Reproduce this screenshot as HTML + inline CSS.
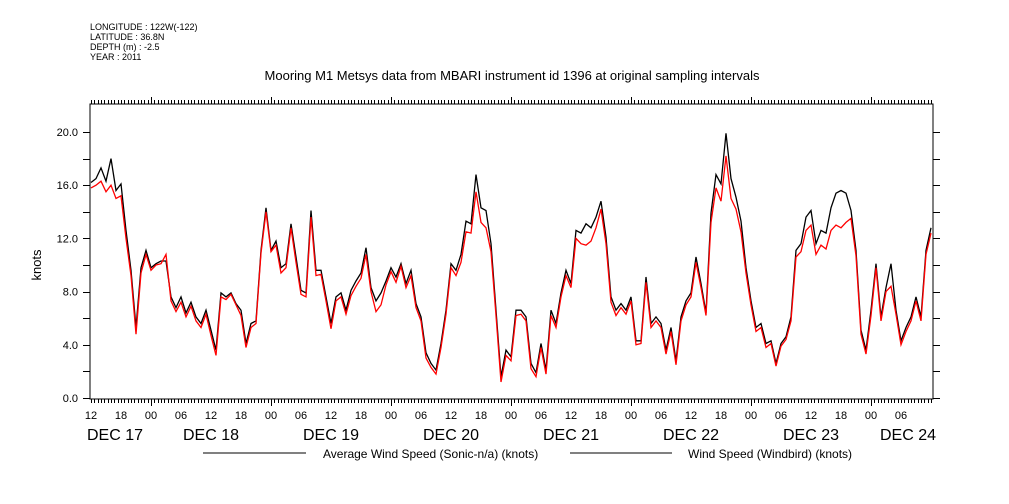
<!DOCTYPE html>
<html><head><meta charset="utf-8"><style>
html,body{margin:0;padding:0;background:#fff;}
svg{display:block;font-family:"Liberation Sans",sans-serif;}
</style></head><body>
<svg id="chart" width="1009" height="504" viewBox="0 0 1009 504">
<g font-size="9" fill="#000">
<text x="90" y="30">LONGITUDE : 122W(-122)</text>
<text x="90" y="40">LATITUDE : 36.8N</text>
<text x="90" y="50">DEPTH (m) : -2.5</text>
<text x="90" y="60">YEAR : 2011</text>
</g>
<text x="512" y="80" text-anchor="middle" font-size="13">Mooring M1 Metsys data from MBARI instrument id 1396 at original sampling intervals</text>
<text transform="translate(41,265) rotate(-90)" text-anchor="middle" font-size="13">knots</text>
<g id="axes"></g>
<g id="series" clip-path="url(#clip)"></g>
<defs><clipPath id="clip"><rect x="90" y="104" width="843" height="295"/></clipPath></defs>
<g font-size="12">
<line x1="203" y1="453" x2="306" y2="453" stroke="#000"/>
<text x="323" y="458">Average Wind Speed (Sonic-n/a) (knots)</text>
<line x1="570" y1="453" x2="672" y2="453" stroke="#000"/>
<text x="688" y="458">Wind Speed (Windbird) (knots)</text>
</g>
</svg>
<script>
const yTicks = [0,4,8,12,16,20];
const yTickLabels = ["0.0","4.0","8.0","12.0","16.0","20.0"];
const hourLabels = ["12","18","00","06","12","18","00","06","12","18","00","06","12","18","00","06","12","18","00","06","12","18","00","06","12","18","00","06"];
const dayLabels = ["DEC 17","DEC 18","DEC 19","DEC 20","DEC 21","DEC 22","DEC 23","DEC 24"];
const averageSonic = [16.2,16.5,17.3,16.3,18.0,15.6,16.1,12.6,9.6,5.3,9.8,11.1,9.8,10.1,10.3,10.3,7.6,6.8,7.6,6.4,7.2,6.1,5.6,6.6,5.1,3.6,7.9,7.6,7.9,7.1,6.6,4.1,5.6,5.8,11.1,14.3,11.1,11.8,9.8,10.1,13.1,10.6,8.1,
7.9,14.1,9.6,9.6,7.6,5.6,7.6,7.9,6.6,8.1,8.8,9.4,11.3,8.3,7.3,7.9,8.8,9.8,9.1,10.1,8.6,9.6,7.1,6.1,3.4,2.6,2.1,4.1,6.6,10.1,9.6,10.8,13.3,13.1,16.8,14.3,14.1,11.6,6.6,1.6,3.6,3.1,6.6,
6.6,6.1,2.6,1.9,4.1,2.1,6.6,5.6,7.9,9.6,8.6,12.6,12.4,13.1,12.8,13.6,14.8,12.1,7.6,6.6,7.1,6.6,7.6,4.3,4.3,9.1,5.6,6.1,5.6,3.6,5.3,2.8,6.1,7.3,7.9,10.6,8.6,6.4,13.9,16.8,16.1,19.9,16.5,
15.1,13.3,9.8,7.3,5.3,5.6,4.1,4.3,2.6,4.1,4.6,6.1,11.1,11.6,13.6,14.1,11.6,12.6,12.4,14.3,15.4,15.6,15.4,14.1,11.1,5.1,3.6,6.6,10.1,6.1,8.3,10.1,6.6,4.3,5.3,6.1,7.6,6.1,11.1,12.8];
const windbird = [15.8,16.0,16.3,15.5,16.0,15.0,15.2,12.0,9.2,4.8,9.4,10.8,9.6,10.0,10.1,10.8,7.3,6.5,7.2,6.1,6.9,5.8,5.3,6.3,4.7,3.2,7.6,7.4,7.8,7.0,6.2,3.8,5.3,5.6,10.9,14.0,11.0,11.5,9.4,9.8,12.8,10.2,7.8,
7.6,13.6,9.2,9.3,7.3,5.2,7.3,7.6,6.3,7.7,8.4,9.0,10.8,8.0,6.5,7.0,8.5,9.5,8.7,9.9,8.3,9.2,6.8,5.8,3.0,2.3,1.8,3.8,6.3,9.8,9.2,10.2,12.5,12.4,15.5,13.2,12.8,11.0,6.2,1.2,3.2,2.8,6.2,
6.3,5.8,2.2,1.6,3.8,1.8,6.2,5.3,7.6,9.2,8.3,12.0,11.6,11.5,11.8,12.8,14.2,11.6,7.2,6.2,6.8,6.3,7.3,4.0,4.1,8.7,5.3,5.8,5.3,3.3,5.0,2.5,5.8,7.0,7.6,10.2,8.3,6.2,13.2,15.8,14.8,18.2,15.0,
14.2,12.5,9.4,7.0,5.0,5.3,3.8,4.1,2.4,3.9,4.4,5.8,10.6,11.0,12.6,13.0,10.8,11.5,11.2,12.6,13.0,12.8,13.2,13.5,10.7,4.8,3.3,6.2,9.8,5.8,8.0,8.4,6.3,4.0,5.0,5.8,7.3,5.8,10.8,12.4];

const NS="http://www.w3.org/2000/svg";
const L=90,R=933,T=104,B=398;
function xScale(h){return 91+h*5.0;}
function yScale(v){return B-(v/20)*(B-132);}
function mk(tag,attrs,parent){const e=document.createElementNS(NS,tag);for(const k in attrs)e.setAttribute(k,attrs[k]);parent.appendChild(e);return e;}
const axes=document.getElementById('axes');
const series=document.getElementById('series');

const frame=mk('path',{d:`M${L},${T}H${R}V${B+1}H${L}Z`,fill:'none',stroke:'#000','stroke-width':1},axes);



for(let m=0;m<=170*60;m+=40){
  const x=Math.round(xScale(m/60))+0.5; if(x>R)break;
  const major=((m/60)+12)%24===0;
  const len=major?7:4;
  mk('line',{x1:x,y1:T,x2:x,y2:T-len,stroke:'#000'},axes);
  mk('line',{x1:x,y1:B+1,x2:x,y2:B+1+len,stroke:'#000'},axes);
}
for(let v=0;v<=20;v+=2){
  const y=Math.round(yScale(v))+0.5;
  mk('line',{x1:L-7,y1:y,x2:L,y2:y,stroke:'#000'},axes);
  mk('line',{x1:R,y1:y,x2:R+7,y2:y,stroke:'#000'},axes);
}
yTicks.forEach((v,i)=>{
  const t=mk('text',{x:L-12,y:yScale(v)+4,'text-anchor':'end','font-size':11},axes);
  t.textContent=yTickLabels[i];
  
  
});
hourLabels.forEach((s,i)=>{
  const t=mk('text',{x:xScale(i*6),y:419,'text-anchor':'middle','font-size':11},axes);
  t.textContent=s;
  
  
});
dayLabels.forEach((s,i)=>{
  let x=xScale(i*24), anchor='middle';
  if(i===0){x=87;anchor='start';}
  if(i===dayLabels.length-1){x=936;anchor='end';}
  const t=mk('text',{x:x,y:440,'text-anchor':anchor,'font-size':16},axes);
  t.textContent=s;
  
  
});
function line(vals,color,name){
  const d=vals.map((v,i)=>(i?'L':'M')+xScale(i).toFixed(1)+','+yScale(v).toFixed(1)).join('');
  const p=mk('path',{d:d,fill:'none',stroke:color,'stroke-width':1.3},series);
  
  
}
line(averageSonic,'#000','average-wind-speed-line');
line(windbird,'#ff0000','windbird-wind-speed-line');
</script>
</body></html>
